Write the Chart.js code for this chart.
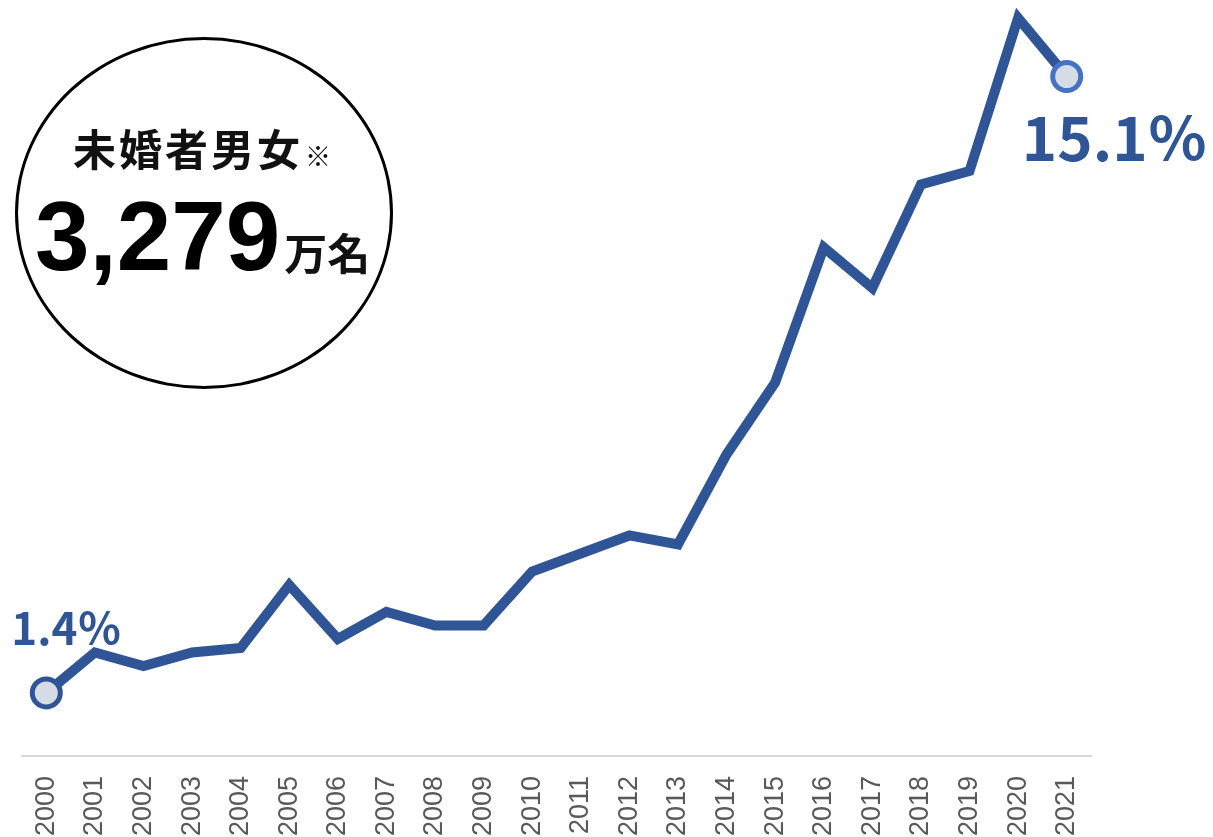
<!DOCTYPE html>
<html lang="ja">
<head>
<meta charset="utf-8">
<script src="https://cdn.jsdelivr.net/npm/chart.js@4"></script>
<style>
  html, body { margin: 0; padding: 0; background: #fff; }
  #wrap { position: relative; width: 1213px; height: 837px; }
  #badge {
    position: absolute; left: 15px; top: 37px; width: 372px; height: 346px;
    border: 3px solid #000; border-radius: 50%; background: transparent;
    font-family: "Noto Sans CJK JP", sans-serif; color: #111;
  }
  #badge .title { position: absolute; left: 55px; top: 76px; font-size: 43px; font-weight: 700; letter-spacing: 3px; white-space: nowrap; }
  #badge .title small { font-size: 26px; font-weight: 400; letter-spacing: 0; margin-left: 2px; }
  #badge .num { position: absolute; left: 17px; top: 140px; white-space: nowrap; }
  #badge .num b { font-family: "Liberation Sans", Arial, sans-serif; font-size: 98px; font-weight: 700; color: #000; }
  #badge .num span { font-size: 43px; font-weight: 700; margin-left: 4px; }
</style>
</head>
<body>
<div id="wrap">
  <canvas id="line-chart" width="1213" height="837"></canvas>
  <div id="badge">
    <div class="title">未婚者男女<small>※</small></div>
    <div class="num"><b>3,279</b><span>万名</span></div>
  </div>
</div>
<script>
const years = ['2000', '2001', '2002', '2003', '2004', '2005', '2006', '2007', '2008', '2009', '2010',
               '2011', '2012', '2013', '2014', '2015', '2016', '2017', '2018', '2019', '2020', '2021'];
const rates = [1.4, 2.3, 2.0, 2.3, 2.4, 3.8, 2.6, 3.2, 2.9, 2.9, 4.1,
               4.5, 4.9, 4.7, 6.7, 8.3, 11.3, 10.4, 12.7, 13.0, 16.4, 15.1];

const lineColor = '#2F5597';
const lastIdx = rates.length - 1;

// draws the first/last value labels next to the end markers
const endLabels = {
    id: 'endLabels',
    afterDatasetsDraw(chart) {
        const ctx = chart.ctx;
        const pts = chart.getDatasetMeta(0).data;
        const first = pts[0], last = pts[lastIdx];
        ctx.save();
        ctx.fillStyle = lineColor;
        ctx.textBaseline = 'alphabetic';
        ctx.font = 'bold 44px "Noto Sans CJK JP"';
        ctx.textAlign = 'left';
        ctx.fillText(rates[0].toFixed(1) + '％', first.x - 35, first.y - 48);
        ctx.font = 'bold 60px "Noto Sans CJK JP"';
        ctx.textAlign = 'center';
        ctx.fillText(rates[lastIdx].toFixed(1) + '％', last.x + 48, last.y + 85);
        ctx.restore();
    }
};

document.addEventListener('DOMContentLoaded', function () {
    const ctx = document.getElementById('line-chart').getContext('2d');
    new Chart(ctx, {
        type: 'line',
        data: {
            labels: years,
            datasets: [{
                data: rates,
                borderColor: lineColor,
                borderWidth: 10,
                borderJoinStyle: 'miter',
                tension: 0,
                clip: false,
                pointRadius: c => (c.dataIndex === 0 || c.dataIndex === lastIdx) ? 14 : 0,
                pointBackgroundColor: '#D6DCE5',
                pointBorderColor: c => c.dataIndex === lastIdx ? '#4472C4' : lineColor,
                pointBorderWidth: 5
            }]
        },
        options: {
            responsive: false,
            animation: false,
            layout: { autoPadding: false, padding: { left: 22, right: 122, top: 0, bottom: -19 } },
            plugins: {
                legend: { display: false },
                tooltip: { enabled: false }
            },
            scales: {
                x: {
                    offset: true,
                    grid: { display: false, drawTicks: false },
                    border: { display: true, color: '#D9D9D9', width: 2 },
                    ticks: {
                        autoSkip: false,
                        minRotation: 90,
                        maxRotation: 90,
                        padding: 20,
                        color: '#595959',
                        font: { family: 'Liberation Sans', size: 27 }
                    }
                },
                y: {
                    display: false,
                    min: 0,
                    max: 16.8
                }
            }
        },
        plugins: [endLabels]
    });
});
</script>
</body>
</html>
